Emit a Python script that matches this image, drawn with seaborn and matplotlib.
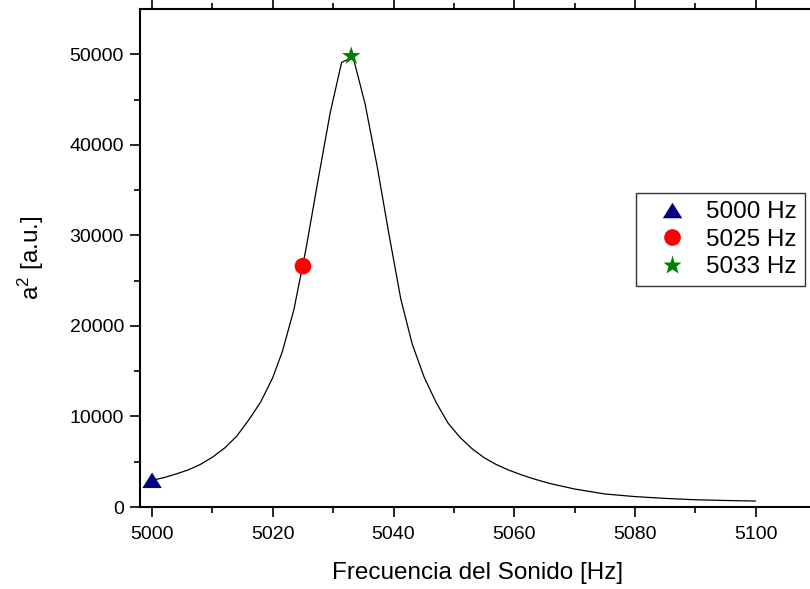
import matplotlib
matplotlib.use("Agg")
import matplotlib.pyplot as plt
import seaborn as sns
import pandas as pd
from matplotlib.lines import Line2D

# Resonance curve: squared amplitude versus sound frequency
freq_hz = [5000.0, 5002.0, 5004.0, 5006.0, 5008.0, 5010.0, 5012.0, 5014.0,
           5016.0, 5018.0, 5020.0, 5021.6, 5023.5, 5025.5, 5027.5, 5029.5,
           5031.4, 5033.3, 5035.3, 5037.3, 5039.2, 5041.2, 5043.1, 5045.1,
           5047.1, 5049.0, 5051.0, 5053.0, 5055.0, 5057.0, 5059.0, 5061.0,
           5063.0, 5066.0, 5070.0, 5075.0, 5080.0, 5085.0, 5090.0, 5095.0,
           5100.0]
amp_sq = [2950, 3250, 3650, 4100, 4700, 5500, 6500, 7800,
          9600, 11600, 14300, 17200, 21800, 28500, 36100, 43500,
          49100, 49700, 44500, 37600, 30300, 23000, 18000, 14300,
          11500, 9300, 7700, 6450, 5450, 4700, 4100, 3600,
          3150, 2580, 1990, 1440, 1150, 950, 800, 720,
          660]

# Highlighted frequencies
mark_freq = [5000, 5025, 5033]
mark_amp = [2950, 26600, 49800]
mark_labels = ["5000 Hz", "5025 Hz", "5033 Hz"]
mark_colors = ["#000080", "#FF0000", "#008000"]
tri = [(-1.0, -0.8), (1.0, -0.8), (0.0, 0.8), (-1.0, -0.8)]
mark_shapes = [tri, "o", "*"]
mark_sizes = [14, 12, 14]

x_ticks = [5000, 5020, 5040, 5060, 5080, 5100]
y_ticks = [0, 10000, 20000, 30000, 40000, 50000]

sns.set_theme(style="ticks")
plt.rcParams["font.family"] = ["Liberation Sans", "DejaVu Sans"]
plt.rcParams["mathtext.default"] = "regular"
plt.rcParams["text.color"] = "black"
plt.rcParams["axes.labelcolor"] = "black"
plt.rcParams["xtick.color"] = "black"
plt.rcParams["ytick.color"] = "black"

fig = plt.figure(figsize=(8.10, 5.89), dpi=100)
ax = fig.add_axes([140 / 810, 82 / 589, 676 / 810, 498 / 589])

curve = pd.DataFrame({"f": freq_hz, "a2": amp_sq})
sns.lineplot(data=curve, x="f", y="a2", ax=ax, color="black", lw=0.9,
             sort=False, zorder=2)

handles = []
for fx, fy, lab, col, shp, ms in zip(mark_freq, mark_amp, mark_labels,
                                      mark_colors, mark_shapes, mark_sizes):
    sns.scatterplot(x=[fx], y=[fy], ax=ax, marker=shp, s=ms ** 2,
                    color=col, edgecolor="none", linewidth=0, zorder=3)
    handles.append(Line2D([], [], linestyle="none", marker=shp, markersize=ms,
                          markerfacecolor=col, markeredgecolor="none",
                          label=lab))

ax.set_xlim(4998, 5110)
ax.set_ylim(0, 55000)
ax.set_xticks(x_ticks)
ax.set_yticks(y_ticks)
ax.set_xticks([5010, 5030, 5050, 5070, 5090], minor=True)
ax.set_yticks([5000, 15000, 25000, 35000, 45000], minor=True)

for sp in ax.spines.values():
    sp.set_visible(True)
    sp.set_linewidth(1.5)
    sp.set_color("black")

ax.tick_params(axis="both", which="major", direction="out", length=7.5,
               width=1.2, labelsize=14, top=True, right=True)
ax.tick_params(axis="both", which="minor", direction="out", length=4,
               width=1.2, top=True, right=True)
ax.tick_params(axis="y", which="major", pad=4)
ax.tick_params(axis="x", which="major", pad=6)

ax.set_xlabel("Frecuencia del Sonido [Hz]", fontsize=17.5, labelpad=14)
ax.set_ylabel("a$^2$ [a.u.]", fontsize=17.5, labelpad=17)

leg = ax.legend(handles=handles, loc="upper left",
                bbox_to_anchor=(635.7 / 810, 1 - 193.3 / 589),
                bbox_transform=fig.transFigure, borderaxespad=0,
                fontsize=17.5, frameon=True, fancybox=False, shadow=False,
                handlelength=2.35, handletextpad=0.23, labelspacing=0.22,
                borderpad=0.33)
frame = leg.get_frame()
frame.set_edgecolor("#333333")
frame.set_linewidth(1.0)
frame.set_facecolor("white")
frame.set_alpha(1.0)

fig.savefig("out.png", dpi=100, facecolor="white")
